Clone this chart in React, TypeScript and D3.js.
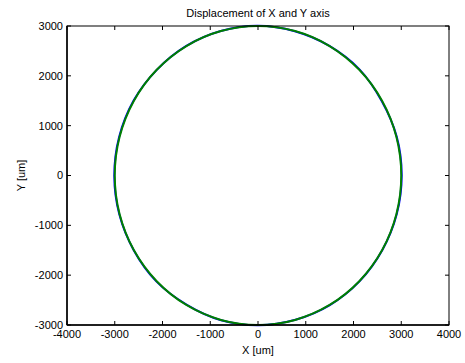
import React from 'react';
import * as d3 from 'd3';

const width = 465;
const height = 363;
const margin = { top: 26, right: 16, bottom: 38, left: 67 };

const title = 'Displacement of X and Y axis';
const xLabel = 'X [um]';
const yLabel = 'Y [um]';

const xTicks = [-4000, -3000, -2000, -1000, 0, 1000, 2000, 3000, 4000];
const yTicks = [-3000, -2000, -1000, 0, 1000, 2000, 3000];

// commanded path (green)
const refX = [3000, 2898, 2598, 2121, 1500, 776, 0, -776, -1500, -2121, -2598, -2898,
  -3000, -2898, -2598, -2121, -1500, -776, 0, 776, 1500, 2121, 2598, 2898];
const refY = [0, 776, 1500, 2121, 2598, 2898, 3000, 2898, 2598, 2121, 1500, 776,
  0, -776, -1500, -2121, -2598, -2898, -3000, -2898, -2598, -2121, -1500, -776];

// measured path (blue), nearly on top of the green one
const measX = [3010, 2905, 2590, 2130, 1495, 770, -10, -780, -1510, -2125, -2605, -2910,
  -3010, -2905, -2600, -2130, -1490, -770, 5, 785, 1505, 2130, 2605, 2905];
const measY = [5, 780, 1495, 2125, 2600, 2895, 3005, 2900, 2595, 2115, 1505, 770,
  -5, -780, -1505, -2125, -2595, -2905, -3005, -2895, -2600, -2120, -1495, -780];

export default function App() {
  const innerWidth = width - margin.left - margin.right;
  const innerHeight = height - margin.top - margin.bottom;

  const xScale = d3.scaleLinear().domain([-4000, 4000]).range([0, innerWidth]);
  const yScale = d3.scaleLinear().domain([-3000, 3000]).range([innerHeight, 0]);

  const line = d3
    .line<[number, number]>()
    .x(d => xScale(d[0]))
    .y(d => yScale(d[1]))
    .curve(d3.curveCatmullRomClosed);

  const measPts = measX.map((x, i) => [x, measY[i]] as [number, number]);
  const refPts = refX.map((x, i) => [x, refY[i]] as [number, number]);

  const font = 'Liberation Sans, Arial, Helvetica, sans-serif';

  return (
    <svg
      width={width}
      height={height}
      style={{ position: 'absolute', left: 0, top: 0, background: '#fff' }}
      fontFamily={font}
    >
      <rect width={width} height={height} fill="#fff" />
      <text x={margin.left + innerWidth / 2} y={17} textAnchor="middle" fontSize={11}>
        {title}
      </text>
      <g transform={`translate(${margin.left},${margin.top})`}>
        <path d={line(measPts) || ''} fill="none" stroke="#0000ff" strokeWidth={2} />
        <path d={line(refPts) || ''} fill="none" stroke="#008000" strokeWidth={2} />

        <rect x={0} y={0} width={innerWidth} height={innerHeight} fill="none" stroke="#000" strokeWidth={1} />
        <line x1={0} y1={0} x2={0} y2={innerHeight} stroke="#000" strokeWidth={1.5} />
        <line x1={0} y1={innerHeight} x2={innerWidth} y2={innerHeight} stroke="#000" strokeWidth={1.5} />

        {xTicks.map(t => (
          <g key={'x' + t} transform={`translate(${xScale(t)},0)`}>
            <line y1={innerHeight} y2={innerHeight - 4} stroke="#000" />
            <line y1={0} y2={4} stroke="#000" />
            <text y={innerHeight + 13} textAnchor="middle" fontSize={11}>
              {t}
            </text>
          </g>
        ))}
        {yTicks.map(t => (
          <g key={'y' + t} transform={`translate(0,${yScale(t)})`}>
            <line x1={0} x2={4} stroke="#000" />
            <line x1={innerWidth} x2={innerWidth - 4} stroke="#000" />
            <text x={-4} dy="0.35em" textAnchor="end" fontSize={11}>
              {t}
            </text>
          </g>
        ))}
      </g>
      <text x={margin.left + innerWidth / 2} y={354} textAnchor="middle" fontSize={11}>
        {xLabel}
      </text>
      <text
        transform={`translate(25,${margin.top + innerHeight / 2}) rotate(-90)`}
        textAnchor="middle"
        fontSize={11}
      >
        {yLabel}
      </text>
    </svg>
  );
}
